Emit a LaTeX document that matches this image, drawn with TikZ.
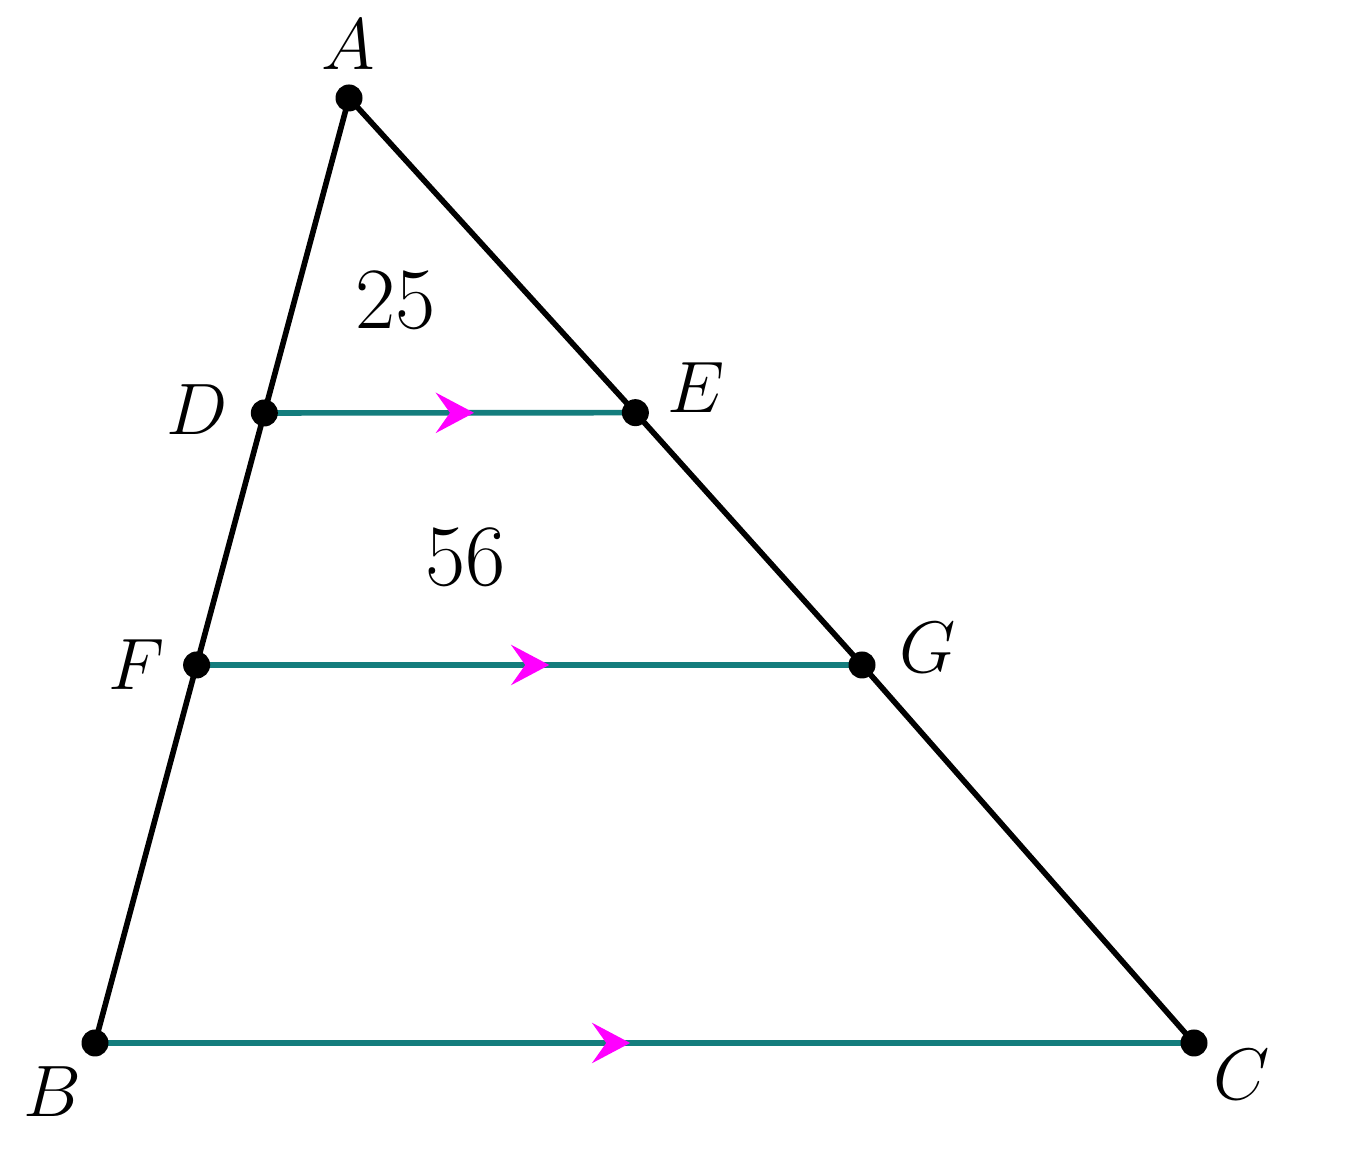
\documentclass[tikz,border=0pt]{standalone}
\usetikzlibrary{calc,arrows.meta,decorations.markings}
\definecolor{segteal}{RGB}{20,125,125}
\definecolor{chevron}{RGB}{255,0,255}
\tikzset{
  side/.style={line width=1.6pt,black},
  seg/.style={line width=1.6pt,segteal},
  parallel/.style={decoration={markings,
      mark=at position #1 with {\arrow{Stealth[length=3.8mm,width=4mm,inset=1.4mm,chevron]}}},
    postaction={decorate}},
  pt/.style={circle,fill=black,inner sep=0pt,minimum size=2.7mm},
  lbl/.style={font=\fontsize{22}{26}\selectfont},
  num/.style={font=\fontsize{27}{30}\selectfont}
}
\begin{document}
\begin{tikzpicture}
  \useasboundingbox (0,0) rectangle (13.6,11.56);
  \coordinate (A) at (3.49,10.58);
  \coordinate (B) at (0.95,1.13);
  \coordinate (C) at (11.94,1.13);
  \coordinate (D) at ($(A)!1/3!(B)$);
  \coordinate (E) at ($(A)!0.333!(C)+(0.05,0)$);
  \coordinate (F) at ($(A)!0.6!(B)$);
  \coordinate (G) at ($(A)!0.6!(C)+(0.06,0)$);
  % parallel segments
  \draw[seg,parallel=0.565] (D) -- (E);
  \draw[seg,parallel=0.53] (F) -- (G);
  \draw[seg,parallel=0.487] (B) -- (C);
  % sides
  \draw[side] (B) -- (A) -- (E) -- (G) -- (C);
  \foreach \p in {A,B,C,D,E,F,G}
    \node[pt] (dot\p) at (\p) {};
  % labels
  \node[lbl] (labA) at (3.48,11.11) {$A$};
  \node[lbl] (labB) at (0.52,0.64) {$B$};
  \node[lbl] (labC) at (12.42,0.81) {$C$};
  \node[lbl] (labD) at (1.97,7.46) {$D$};
  \node[lbl] (labE) at (6.96,7.68) {$E$};
  \node[lbl] (labF) at (1.37,4.91) {$F$};
  \node[lbl] (labG) at (9.28,5.08) {$G$};
  \node[num] (areaADE) at (3.96,8.56) {$25$};
  \node[num] (areaDEGF) at (4.66,5.99) {$56$};
\end{tikzpicture}
\end{document}
